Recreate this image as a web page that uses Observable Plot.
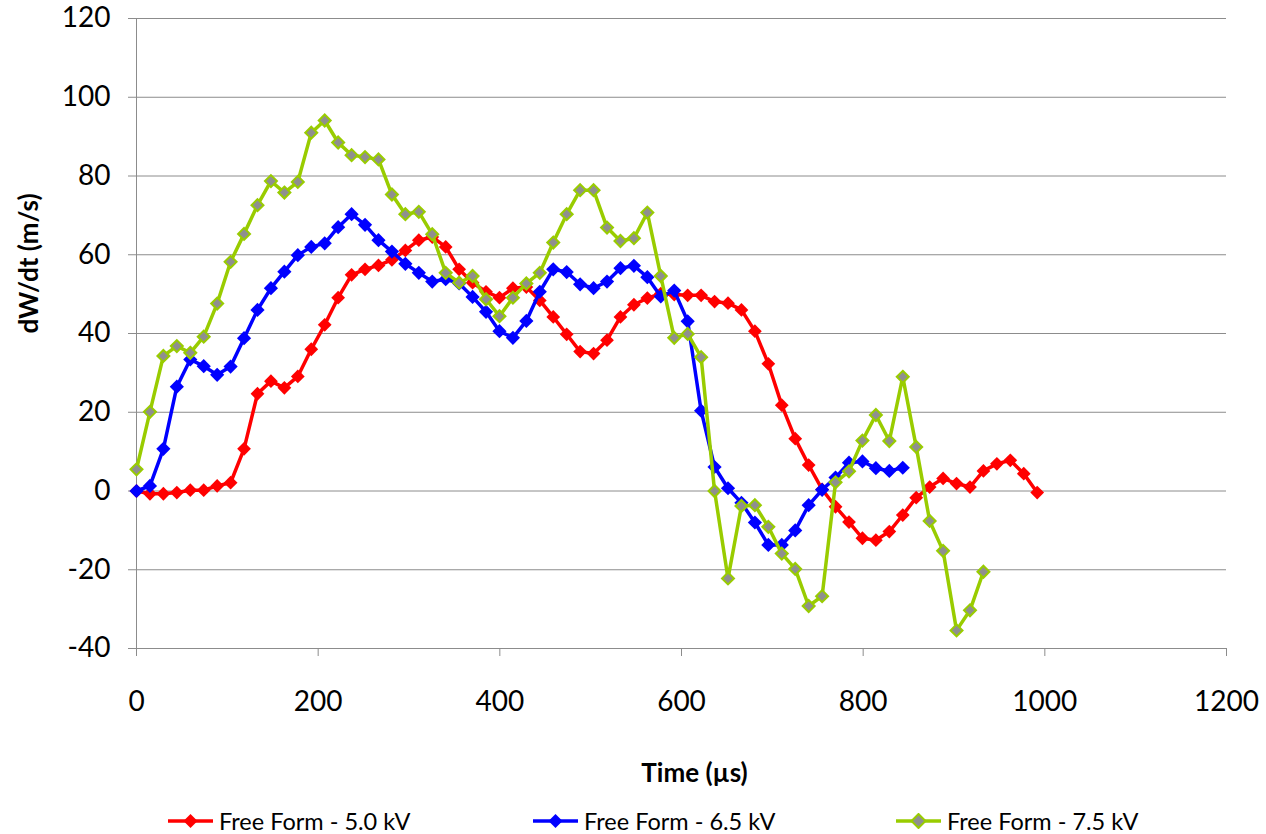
<!DOCTYPE html>
<html>
<head>
<meta charset="utf-8">
<script src="https://cdn.jsdelivr.net/npm/d3@7"></script>
<script src="https://cdn.jsdelivr.net/npm/@observablehq/plot@0.6"></script>
<style>
  html, body { margin: 0; padding: 0; background: #fff; }
  #wrap { position: relative; width: 1266px; height: 834px; font-family: Lato, "Open Sans", sans-serif; }
  #chart { position: absolute; left: 0; top: 0; }
  .leg { position: absolute; top: 808px; height: 26px; display: flex; align-items: center; font-size: 23.5px; color: #000; white-space: nowrap; }
  .leg svg { margin-right: 6px; }
</style>
</head>
<body>
<div id="wrap">
  <div id="chart"></div>
</div>
<script>
// Time axis samples (µs)
const times = [0, 14.8, 29.6, 44.4, 59.2, 74, 88.8, 103.6, 118.4, 133.2, 148, 162.8, 177.6, 192.4, 207.2, 222, 236.8, 251.6, 266.4, 281.2,
  296, 310.8, 325.6, 340.4, 355.2, 370, 384.8, 399.6, 414.4, 429.2, 444, 458.8, 473.6, 488.4, 503.2, 518, 532.8, 547.6, 562.4, 577.2,
  592, 606.8, 621.6, 636.4, 651.2, 666, 680.8, 695.6, 710.4, 725.2, 740, 754.8, 769.6, 784.4, 799.2, 814, 828.8, 843.6, 858.4, 873.2,
  888, 902.8, 917.6, 932.4, 947.2, 962, 976.8, 991.6];

const seriesNames = ["Free Form - 5.0 kV", "Free Form - 6.5 kV", "Free Form - 7.5 kV"];

const v50 = [0, -0.7, -0.7, -0.4, 0.2, 0.2, 1.3, 2.1, 10.7, 24.7, 27.9, 26.2, 29.1, 36.0, 42.2, 49.1, 54.9, 56.3, 57.3, 58.7,
  61.1, 63.7, 64.5, 62.0, 56.3, 52.9, 50.6, 49.1, 51.5, 51.8, 48.4, 44.2, 39.8, 35.4, 34.9, 38.3, 44.2, 47.3, 49.0, 50.1,
  49.9, 49.7, 49.7, 48.1, 47.7, 46.0, 40.6, 32.3, 21.8, 13.3, 6.6, 0.4, -4.0, -7.9, -12.0, -12.5, -10.3, -6.1, -1.7, 1.0,
  3.2, 1.9, 1.0, 5.1, 6.9, 7.8, 4.4, -0.4];

const v65 = [0, 1.3, 10.7, 26.5, 33.4, 31.7, 29.5, 31.6, 38.8, 46.0, 51.5, 55.7, 59.9, 62.0, 62.9, 67.0, 70.3, 67.6, 63.7, 60.8,
  57.7, 55.4, 53.2, 53.8, 52.7, 49.3, 45.5, 40.6, 38.9, 43.2, 50.6, 56.3, 55.6, 52.5, 51.5, 53.2, 56.6, 57.2, 54.3, 49.4,
  50.9, 43.1, 20.4, 6.1, 0.7, -3.0, -8.0, -13.7, -13.7, -10.0, -3.6, 0.3, 3.4, 7.2, 7.5, 5.8, 5.1, 5.9];

const v75 = [5.5, 20.1, 34.3, 36.8, 35.1, 39.2, 47.6, 58.2, 65.3, 72.6, 78.7, 75.8, 78.5, 91.0, 94.1, 88.5, 85.3, 84.8, 84.2, 75.3,
  70.3, 70.9, 65.2, 55.4, 52.9, 54.6, 48.7, 44.4, 49.1, 52.7, 55.4, 63.1, 70.3, 76.4, 76.4, 66.9, 63.5, 64.2, 70.7, 54.6,
  38.9, 39.9, 34.0, 0.0, -22.2, -3.8, -3.6, -9.1, -15.9, -19.8, -29.2, -26.7, 2.2, 5.0, 12.8, 19.3, 12.7, 29.0, 11.2, -7.6,
  -15.2, -35.4, -30.3, -20.5];

const xTicks = [0, 200, 400, 600, 800, 1000, 1200];
const yTicks = [-40, -20, 0, 20, 40, 60, 80, 100, 120];
const xLabel = "Time (µs)";
const yLabel = "dW/dt (m/s)";

const colors = ["#ff0000", "#0000ff", "#99cc00"];
const gray = "#8c8c8c";
const fmt = (d) => String(d);

const toRows = (vals) => vals.map((v, i) => ({t: times[i], v}));
const d50 = toRows(v50), d65 = toRows(v65), d75 = toRows(v75);

const plot = Plot.plot({
  width: 1266,
  height: 790,
  marginTop: 18,
  marginLeft: 136,
  marginRight: 40,
  marginBottom: 142,
  style: {fontFamily: "Lato, 'Open Sans', sans-serif", background: "#fff", color: "#000"},
  x: {domain: [0, 1200]},
  y: {domain: [-40, 120]},
  marks: [
    Plot.gridY(yTicks, {stroke: gray, strokeOpacity: 1, strokeWidth: 1}),
    Plot.ruleX([0], {stroke: gray, strokeWidth: 1}),
    Plot.axisY(yTicks, {tickSize: 8, tickPadding: 18, fontSize: 28, stroke: gray, fill: "#000", label: null, tickFormat: fmt}),
    Plot.axisX(xTicks, {tickSize: 8, tickPadding: 35, fontSize: 28, stroke: gray, fill: "#000", label: null, tickFormat: fmt}),
    Plot.text([xLabel], {frameAnchor: "bottom", dx: 13, dy: 125, lineAnchor: "middle", fontSize: 26, fontWeight: "bold", fill: "#000"}),
    Plot.text([yLabel], {frameAnchor: "left", dx: -107, rotate: -90, lineAnchor: "middle", fontSize: 26, fontWeight: "bold", fill: "#000"}),
    Plot.line(d50, {x: "t", y: "v", stroke: colors[0], strokeWidth: 3.5}),
    Plot.dot(d50, {x: "t", y: "v", symbol: "diamond2", r: 6.2, fill: colors[0], stroke: "none"}),
    Plot.line(d65, {x: "t", y: "v", stroke: colors[1], strokeWidth: 3.5}),
    Plot.dot(d65, {x: "t", y: "v", symbol: "diamond2", r: 6.4, fill: colors[1], stroke: "none"}),
    Plot.line(d75, {x: "t", y: "v", stroke: colors[2], strokeWidth: 3.5}),
    Plot.dot(d75, {x: "t", y: "v", symbol: "diamond2", r: 5.4, fill: "#8f8f8f", stroke: colors[2], strokeWidth: 2})
  ]
});
document.getElementById("chart").appendChild(plot);

// Legend
const legendLeft = [168, 533, 896];
const wrap = document.getElementById("wrap");
seriesNames.forEach((name, i) => {
  const div = document.createElement("div");
  div.className = "leg";
  div.style.left = legendLeft[i] + "px";
  const isGreen = i === 2;
  div.innerHTML =
    `<svg width="45" height="16" viewBox="0 0 45 16">
       <line x1="0" y1="8" x2="45" y2="8" stroke="${colors[i]}" stroke-width="3.5"/>
       <path d="M22.5,1 L29.5,8 L22.5,15 L15.5,8 Z" fill="${isGreen ? "#8f8f8f" : colors[i]}" stroke="${isGreen ? colors[i] : "none"}" stroke-width="${isGreen ? 2 : 0}"/>
     </svg><span>${name}</span>`;
  wrap.appendChild(div);
});
</script>
</body>
</html>
